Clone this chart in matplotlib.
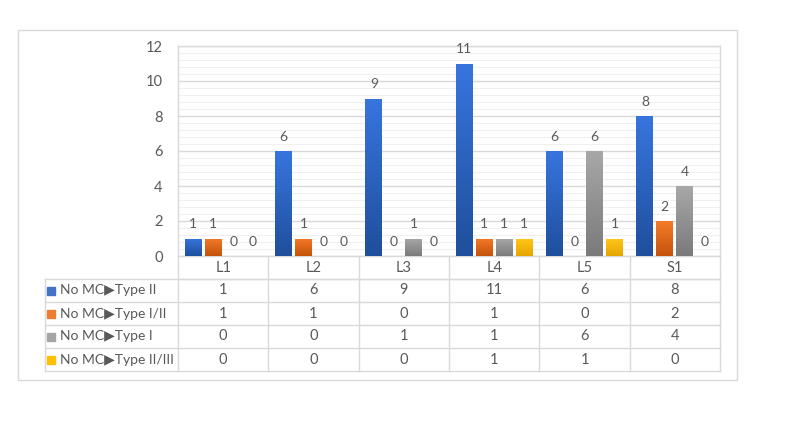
import matplotlib.pyplot as plt
import numpy as np
from matplotlib.colors import LinearSegmentedColormap
from matplotlib.patches import Rectangle
import matplotlib.transforms as mtransforms

plt.rcParams['font.family'] = ['Lato', 'DejaVu Sans']

categories = ["L1", "L2", "L3", "L4", "L5", "S1"]
series_names = ["No MC\u25b6Type II", "No MC\u25b6Type I/II",
                "No MC\u25b6Type I", "No MC\u25b6Type II/III"]
type_ii = [1, 6, 9, 11, 6, 8]
type_i_ii = [1, 1, 0, 1, 0, 2]
type_i = [0, 0, 1, 1, 6, 4]
type_ii_iii = [0, 0, 0, 1, 1, 0]
series_values = [type_ii, type_i_ii, type_i, type_ii_iii]

# (top colour, bottom colour) for each series
colors = [("#3775de", "#1f4f9c"),
          ("#f47a28", "#c4530c"),
          ("#a8a8a8", "#7a7a7a"),
          ("#ffc81a", "#e5a500")]
legend_colors = ["#4472c4", "#ed7d31", "#a5a5a5", "#ffc000"]

text_color = "#595959"
line_color = "#d9d9d9"

fig = plt.figure(figsize=(8, 4.21), dpi=100)
ax = fig.add_axes([178 / 800, 1 - 256 / 421, 542 / 800, 210 / 421])

# outer chart frame
fig.patches.append(Rectangle((18 / 800, 1 - 380 / 421), 719 / 800, 350 / 421,
                             transform=fig.transFigure, fill=False,
                             edgecolor=line_color, linewidth=1))

x = np.arange(len(categories))
step = 0.221
width = 0.188
offsets = (np.arange(4) - 1.5) * step

ax.set_xlim(-0.5, len(categories) - 0.5)
ax.set_ylim(0, 12)

grad = np.linspace(0, 1, 256).reshape(-1, 1)
for vals, off, (top, bot) in zip(series_values, offsets, colors):
    bars = ax.bar(x + off, vals, width=width, color=bot, zorder=3)
    cmap = LinearSegmentedColormap.from_list("g", [bot, top])
    for b, v in zip(bars, vals):
        if v > 0:
            bx, by = b.get_x(), b.get_y()
            im = ax.imshow(grad, cmap=cmap, origin="lower", aspect="auto",
                           extent=[bx, bx + b.get_width(), by, by + b.get_height()],
                           zorder=4)
            im.set_clip_path(b)
        ax.annotate(str(v), (b.get_x() + b.get_width() / 2, v),
                    xytext=(0, 6), textcoords="offset points",
                    ha="center", va="bottom", fontsize=10, color=text_color,
                    zorder=5)

ax.set_xlim(-0.5, len(categories) - 0.5)
ax.set_ylim(0, 12)

ax.set_yticks(np.arange(0, 13, 2))
ax.set_yticks(np.arange(0, 12.01, 0.4), minor=True)
ax.grid(axis="y", which="major", color=line_color, linewidth=1, zorder=0)
ax.grid(axis="y", which="minor", color="#f0f0f0", linewidth=0.8, zorder=0)
ax.tick_params(axis="y", which="both", length=0, labelsize=10.5,
               labelcolor=text_color, pad=11)
ax.set_xticks([])
for s in ax.spines.values():
    s.set_color(line_color)
    s.set_linewidth(1)

# data table under the plot
trans = mtransforms.blended_transform_factory(ax.transData, ax.transAxes)
row_h = 23 / 210
left_x = -0.5 - (178 - 45) / (542 / 6)
n_rows = len(series_values)
bottom = -row_h * (n_rows + 1)

kw = dict(transform=trans, clip_on=False, color=line_color, linewidth=1)
# horizontal lines
ax.plot([-0.5, 5.5], [-row_h, -row_h], **kw)
for r in range(n_rows + 1):
    y = -row_h * (r + 1)
    ax.plot([left_x, 5.5], [y, y], **kw)
# vertical lines
for xv in np.arange(-0.5, 6.0, 1.0):
    ax.plot([xv, xv], [0, bottom], **kw)
ax.plot([left_x, left_x], [-row_h, bottom], **kw)

for i, c in enumerate(categories):
    ax.text(i, -row_h / 2, c, transform=trans, ha="center", va="center",
            fontsize=10.5, color=text_color)

for r, (name, vals, lc) in enumerate(zip(series_names, series_values, legend_colors)):
    yc = -row_h * (r + 1.5)
    ax.plot([left_x + 0.07], [yc], marker="s", markersize=6, color=lc,
            transform=trans, clip_on=False, linestyle="none")
    ax.text(left_x + 0.17, yc, name, transform=trans, ha="left", va="center",
            fontsize=10, color=text_color)
    for i, v in enumerate(vals):
        ax.text(i, yc, str(v), transform=trans, ha="center", va="center",
                fontsize=10.5, color=text_color)

fig.savefig("out.png", dpi=100, facecolor="white")
